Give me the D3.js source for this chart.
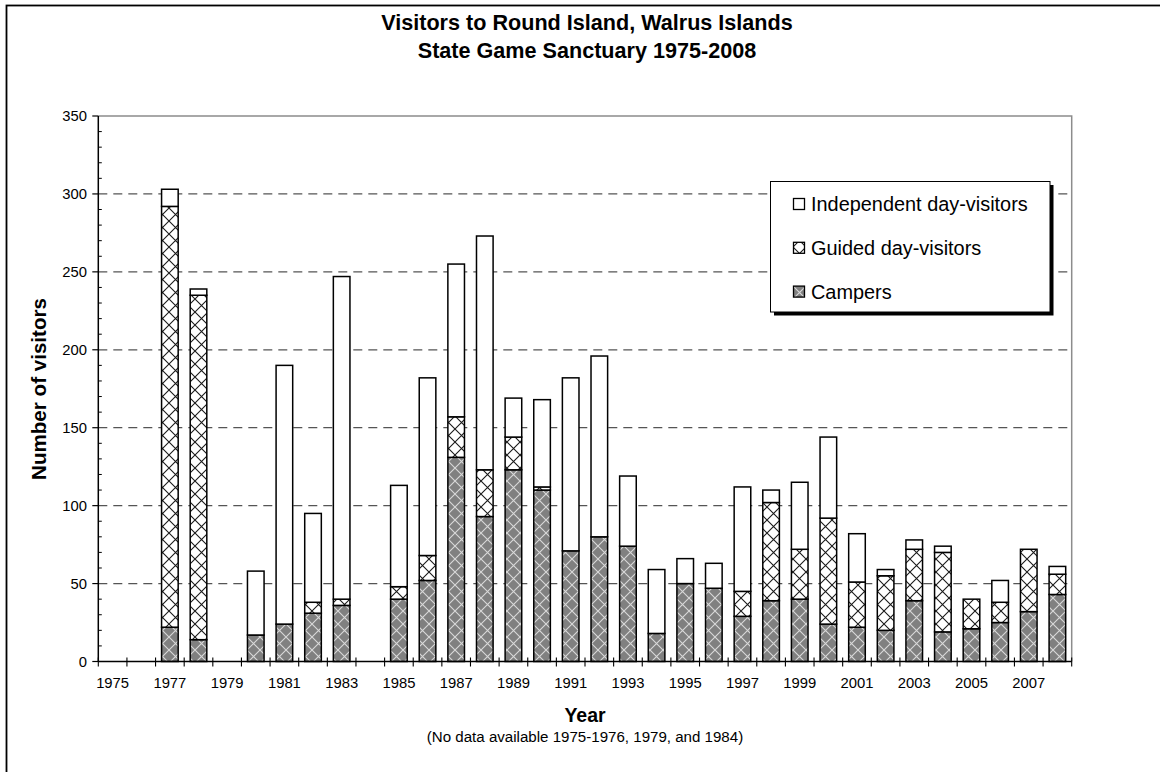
<!DOCTYPE html>
<html>
<head>
<meta charset="utf-8">
<script src="https://cdn.jsdelivr.net/npm/d3@7"></script>
<style>
  html, body { margin: 0; padding: 0; background: #fff; }
  svg { display: block; }
  text { font-family: "Liberation Sans", Arial, Helvetica, sans-serif; fill: #000; }
</style>
</head>
<body>
<svg id="chart" width="1160" height="772"></svg>
<script>
// ---- data ----
const years = d3.range(1975, 2009).map(String);
const campers     = [null, null, 22, 14, null, 17, 24, 31, 36, null, 40, 52, 131, 93, 123, 110, 71, 80, 74, 18, 50, 47, 29, 39, 40, 24, 22, 20, 39, 19, 21, 25, 32, 43];
const guided      = [null, null, 270, 221, null, 0, 0, 7, 4, null, 8, 16, 26, 30, 21, 2, 0, 0, 0, 0, 0, 0, 16, 63, 32, 68, 29, 35, 33, 51, 19, 13, 40, 13];
const independent = [null, null, 11, 4, null, 41, 166, 57, 207, null, 65, 114, 98, 150, 25, 56, 111, 116, 45, 41, 16, 16, 67, 8, 43, 52, 31, 4, 6, 4, 0, 14, 0, 5];
const seriesKeys   = ["campers", "guided", "independent"];
const seriesLabels = ["Campers", "Guided day-visitors", "Independent day-visitors"];
const yTicks = [0, 50, 100, 150, 200, 250, 300, 350];
const titleLines = ["Visitors to Round Island, Walrus Islands", "State Game Sanctuary 1975-2008"];
const xTitle = "Year";
const xNote = "(No data available 1975-1976, 1979, and 1984)";
const yTitle = "Number of visitors";

const rows = years.map((y, i) => ({
  year: y,
  campers: campers[i] || 0,
  guided: guided[i] || 0,
  independent: independent[i] || 0,
  hasData: campers[i] !== null
}));

// ---- layout ----
const svg = d3.select("#chart");
const L = 98.3, R = 1071.7, T = 116, B = 661.5;

const x = d3.scaleBand().domain(years).range([L, R]).paddingInner(0.42).paddingOuter(0.21);
const y = d3.scaleLinear().domain([0, 350]).range([B, T]);

// ---- patterns ----
const defs = svg.append("defs");
const P = 13;
const pg = defs.append("pattern").attr("id", "pGuided").attr("patternUnits", "userSpaceOnUse")
  .attr("width", P).attr("height", P);
pg.append("rect").attr("width", P).attr("height", P).attr("fill", "#fff");
pg.append("path").attr("d", `M0,0L${P},${P}M${P},0L0,${P}`).attr("stroke", "#1a1a1a").attr("stroke-width", 1.1);

const pc = defs.append("pattern").attr("id", "pCampers").attr("patternUnits", "userSpaceOnUse")
  .attr("width", P).attr("height", P);
pc.append("rect").attr("width", P).attr("height", P).attr("fill", "#808080");
pc.append("path").attr("d", `M0,0L${P},${P}M${P},0L0,${P}`).attr("stroke", "#d9d9d9").attr("stroke-width", 1.1);

const fills = { campers: "url(#pCampers)", guided: "url(#pGuided)", independent: "#fff" };

// ---- chart frame (extends beyond the picture on right/bottom) ----
svg.append("rect").attr("x", 6.5).attr("y", 5.5).attr("width", 1300).attr("height", 900)
  .attr("fill", "none").attr("stroke", "#000").attr("stroke-width", 1.8);

// ---- gridlines ----
svg.append("g").selectAll("line").data(yTicks.filter(t => t > 0 && t < 350)).join("line")
  .attr("x1", L).attr("x2", R).attr("y1", d => y(d)).attr("y2", d => y(d))
  .attr("stroke", "#555").attr("stroke-width", 1.2).attr("stroke-dasharray", "9,6");

// plot area top & right border (gray)
svg.append("path").attr("d", `M${L},${y(350)}H${R}V${y(0)}`)
  .attr("fill", "none").attr("stroke", "#8c8c8c").attr("stroke-width", 1.5);

// ---- bars ----
const stacked = d3.stack().keys(seriesKeys)(rows);
const gBars = svg.append("g");
stacked.forEach(layer => {
  gBars.append("g").selectAll("rect")
    .data(layer.filter(d => d.data.hasData && d[1] - d[0] > 0))
    .join("rect")
    .attr("x", d => x(d.data.year))
    .attr("width", x.bandwidth())
    .attr("y", d => y(d[1]))
    .attr("height", d => y(d[0]) - y(d[1]))
    .attr("fill", fills[layer.key])
    .attr("stroke", "#000").attr("stroke-width", 1.5);
});

// ---- axes ----
const gAxes = svg.append("g");
gAxes.append("line").attr("x1", L).attr("x2", L).attr("y1", y(0)).attr("y2", y(350))
  .attr("stroke", "#000").attr("stroke-width", 1.5);
gAxes.selectAll(".ymaj").data(yTicks).join("line")
  .attr("x1", L - 6).attr("x2", L).attr("y1", d => y(d)).attr("y2", d => y(d))
  .attr("stroke", "#000").attr("stroke-width", 1.2);
gAxes.selectAll(".ymin").data(d3.range(10, 350, 10).filter(v => v % 50 !== 0)).join("line")
  .attr("x1", L).attr("x2", L + 3.5).attr("y1", d => y(d)).attr("y2", d => y(d))
  .attr("stroke", "#000").attr("stroke-width", 1);
gAxes.selectAll(".ylab").data(yTicks).join("text")
  .attr("x", 87).attr("y", d => y(d)).attr("dy", "0.36em")
  .attr("text-anchor", "end").attr("font-size", 14.8).text(d => d);

gAxes.append("line").attr("x1", L).attr("x2", R).attr("y1", y(0)).attr("y2", y(0))
  .attr("stroke", "#000").attr("stroke-width", 1.5);
const half = (x.step() - x.bandwidth()) / 2;
const bounds = years.map(d => x(d) - half).concat([x(years[years.length - 1]) + x.bandwidth() + half]);
gAxes.selectAll(".xt").data(bounds).join("line")
  .attr("x1", d => d).attr("x2", d => d).attr("y1", y(0) - 4).attr("y2", y(0) + 5)
  .attr("stroke", "#000").attr("stroke-width", 1.1);
gAxes.selectAll(".xlab").data(years.filter((d, i) => i % 2 === 0)).join("text")
  .attr("x", d => x(d) + x.bandwidth() / 2).attr("y", 688)
  .attr("text-anchor", "middle").attr("font-size", 14.8).text(d => d);

// ---- titles ----
const cx = (L + R) / 2;
svg.append("text").attr("x", 587).attr("y", 29.5).attr("text-anchor", "middle")
  .attr("font-size", 21.6).attr("font-weight", "bold").text(titleLines[0]);
svg.append("text").attr("x", 587).attr("y", 58).attr("text-anchor", "middle")
  .attr("font-size", 21.6).attr("font-weight", "bold").text(titleLines[1]);
svg.append("text").attr("x", cx).attr("y", 721.5).attr("text-anchor", "middle")
  .attr("font-size", 19.5).attr("font-weight", "bold").text(xTitle);
svg.append("text").attr("x", cx).attr("y", 741.5).attr("text-anchor", "middle")
  .attr("font-size", 15.1).text(xNote);
svg.append("text").attr("transform", `translate(45.5,389) rotate(-90)`).attr("text-anchor", "middle")
  .attr("font-size", 20.6).attr("font-weight", "bold").text(yTitle);

// ---- legend ----
const lg = svg.append("g");
const lx = 770.5, ly = 181.5, lw = 279.5, lh = 130.5;
lg.append("rect").attr("x", lx + 3.5).attr("y", ly + 3.5).attr("width", lw).attr("height", lh).attr("fill", "#000");
lg.append("rect").attr("x", lx).attr("y", ly).attr("width", lw).attr("height", lh)
  .attr("fill", "#fff").attr("stroke", "#000").attr("stroke-width", 1);
const legendOrder = ["independent", "guided", "campers"];
legendOrder.forEach((k, i) => {
  const cyy = 204 + i * 43.8;
  lg.append("rect").attr("x", 793.5).attr("y", cyy - 5.5).attr("width", 11).attr("height", 11)
    .attr("fill", fills[k]).attr("stroke", "#000").attr("stroke-width", 1.3);
  lg.append("text").attr("x", 811).attr("y", cyy).attr("dy", "0.36em")
    .attr("font-size", 19.9).text(seriesLabels[seriesKeys.indexOf(k)]);
});
</script>
</body>
</html>
